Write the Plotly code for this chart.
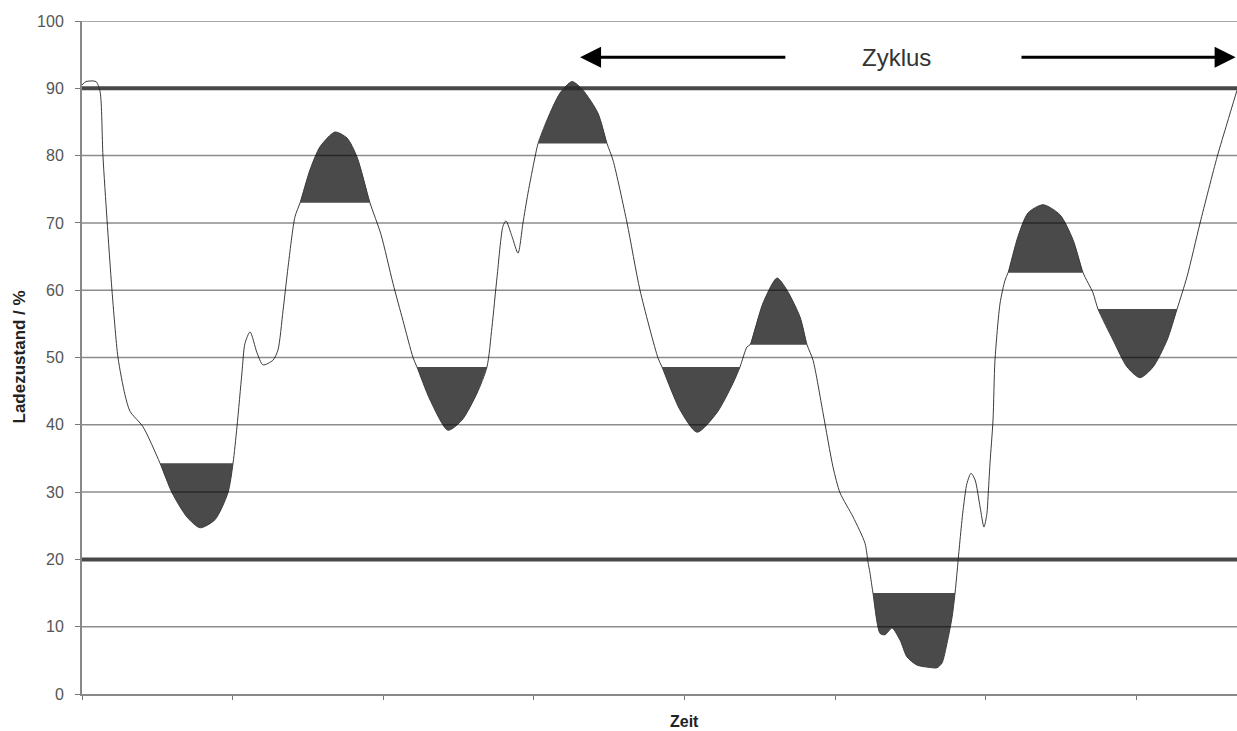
import plotly.graph_objects as go

# State of charge over time (time in tick intervals, SOC in %)
time = [0.000, 0.027, 0.093, 0.120, 0.139, 0.166, 0.199, 0.239, 0.285, 0.319,
        0.405, 0.518, 0.598, 0.697, 0.784, 0.883, 0.969, 1.003, 1.029, 1.062,
        1.082, 1.116, 1.162, 1.202, 1.268, 1.301, 1.335, 1.368, 1.414, 1.448,
        1.514, 1.580, 1.680, 1.760, 1.826, 1.912, 1.985, 2.065, 2.131, 2.198,
        2.224, 2.311, 2.430, 2.523, 2.623, 2.689, 2.722, 2.756, 2.795, 2.815,
        2.855, 2.895, 2.928, 2.961, 3.008, 3.028, 3.088, 3.174, 3.254, 3.327,
        3.426, 3.486, 3.526, 3.619, 3.705, 3.825, 3.851, 3.971, 4.084, 4.216,
        4.323, 4.369, 4.416, 4.436, 4.522, 4.615, 4.681, 4.768, 4.814, 4.854,
        4.920, 4.987, 5.033, 5.120, 5.199, 5.219, 5.232, 5.252, 5.299, 5.332,
        5.378, 5.432, 5.478, 5.544, 5.611, 5.677, 5.710, 5.744, 5.777, 5.797,
        5.830, 5.850, 5.876, 5.903, 5.930, 5.963, 5.989, 6.009, 6.016, 6.029,
        6.049, 6.062, 6.096, 6.129, 6.149, 6.215, 6.282, 6.381, 6.494, 6.580,
        6.647, 6.713, 6.746, 6.846, 6.939, 7.025, 7.112, 7.205, 7.271, 7.337,
        7.424, 7.537, 7.603, 7.669]
soc = [90.5, 91.0, 91.0, 89.5, 80.0, 70.5, 60.0, 50.0, 44.5, 42.0,
       39.7, 34.3, 29.9, 26.3, 24.7, 25.9, 29.9, 34.3, 39.7, 47.7,
       52.1, 53.8, 50.7, 48.9, 49.6, 51.1, 57.0, 63.4, 70.9, 73.0,
       77.9, 81.3, 83.5, 82.6, 79.8, 73.0, 68.3, 61.0, 55.5, 50.0,
       48.6, 43.7, 39.2, 40.7, 44.7, 48.6, 54.5, 62.0, 69.5, 70.3,
       68.0, 65.5, 70.0, 74.4, 79.8, 81.8, 85.3, 89.3, 91.0, 89.7,
       86.3, 81.8, 79.3, 70.0, 60.0, 49.9, 48.6, 42.2, 38.9, 41.8,
       46.2, 48.6, 51.6, 51.9, 58.1, 61.8, 60.0, 56.0, 51.9, 49.6,
       41.8, 33.7, 29.9, 26.3, 22.4, 19.6, 18.0, 15.0, 9.0, 8.8,
       9.8, 8.0, 5.5, 4.3, 4.0, 3.9, 4.6, 7.6, 11.4, 15.0,
       22.9, 27.3, 31.3, 32.8, 31.8, 27.8, 24.8, 26.9, 29.3, 34.3,
       40.7, 49.6, 58.1, 61.5, 62.6, 68.0, 71.5, 72.7, 71.2, 67.5,
       62.6, 59.6, 57.2, 52.6, 48.6, 47.0, 48.6, 52.6, 57.2, 62.0,
       70.0, 79.8, 84.8, 89.7]

# Partial cycles: shaded between the curve and a horizontal level
band_start = [0.518, 1.448, 2.224, 3.028, 3.851, 4.436, 5.252, 6.149, 6.746]
band_end = [1.003, 1.912, 2.689, 3.486, 4.369, 4.814, 5.797, 6.647, 7.271]
band_level = [34.3, 73.0, 48.6, 81.8, 48.6, 51.9, 15.0, 62.6, 57.2]

y_ticks = [0, 10, 20, 30, 40, 50, 60, 70, 80, 90, 100]
soc_limits = [20, 90]

cycle_label = "Zyklus"
cycle_arrow_left = [4.68, 3.307]   # tail, head
cycle_arrow_right = [6.228, 7.66]  # tail, head
cycle_y = 94.6
cycle_label_x = 5.405

FONT = "Liberation Sans, Arial"
SMOOTH = 0.7

fig = go.Figure()

for t0, t1, lvl in zip(band_start, band_end, band_level):
    xs = [t for t in time if t0 <= t <= t1]
    ys = [s for t, s in zip(time, soc) if t0 <= t <= t1]
    fig.add_trace(go.Scatter(
        x=[t0, t1], y=[lvl, lvl], mode="lines", line=dict(width=0),
        hoverinfo="skip", showlegend=False))
    fig.add_trace(go.Scatter(
        x=xs, y=ys, mode="lines", fill="tonexty", fillcolor="#4a4a4a",
        line=dict(width=0, shape="spline", smoothing=SMOOTH),
        hoverinfo="skip", showlegend=False))

fig.add_trace(go.Scatter(
    x=time, y=soc, mode="lines",
    line=dict(color="#3c3c3c", width=1, shape="spline", smoothing=SMOOTH),
    showlegend=False, hoverinfo="skip"))

shapes = []
for v in y_ticks[1:]:
    if v in soc_limits:
        continue
    shapes.append(dict(type="line", xref="paper", yref="y", x0=0, x1=1, y0=v, y1=v,
                       line=dict(color="rgba(0,0,0,0.45)", width=1.5), layer="above"))
for v in soc_limits:
    shapes.append(dict(type="line", xref="paper", yref="y", x0=0, x1=1, y0=v, y1=v,
                       line=dict(color="rgba(40,40,40,0.85)", width=4), layer="above"))

annotations = [
    dict(x=cycle_arrow_left[1], y=cycle_y, ax=cycle_arrow_left[0], ay=cycle_y,
         xref="x", yref="y", axref="x", ayref="y", text="", showarrow=True,
         arrowhead=2, arrowsize=1.4, arrowwidth=3, arrowcolor="black"),
    dict(x=cycle_arrow_right[1], y=cycle_y, ax=cycle_arrow_right[0], ay=cycle_y,
         xref="x", yref="y", axref="x", ayref="y", text="", showarrow=True,
         arrowhead=2, arrowsize=1.4, arrowwidth=3, arrowcolor="black"),
    dict(x=cycle_label_x, y=cycle_y, xref="x", yref="y", text=cycle_label,
         showarrow=False, font=dict(family=FONT, size=24, color="#333")),
    dict(x=0, y=0.5, xref="paper", yref="paper", xshift=-63, xanchor="center",
         yanchor="middle", text="<b>Ladezustand / %</b>",
         textangle=-90, showarrow=False,
         font=dict(family=FONT, size=17, color="#222")),
    dict(x=4.0, y=0, xref="x", yref="paper", yshift=-27, xanchor="center",
         yanchor="middle", text="<b>Zeit</b>",
         showarrow=False, font=dict(family=FONT, size=16, color="#222")),
]

fig.update_layout(
    width=1237, height=731,
    margin=dict(l=82, r=0, t=21, b=37),
    paper_bgcolor="white", plot_bgcolor="white",
    shapes=shapes, annotations=annotations,
    xaxis=dict(range=[0, 7.669], showgrid=False, zeroline=False, showticklabels=False,
               ticks="outside", tickmode="linear", tick0=0, dtick=1, ticklen=4,
               tickcolor="#777", showline=True, linecolor="#888", linewidth=2),
    yaxis=dict(range=[0, 100], showgrid=False, zeroline=False,
               tickmode="array", tickvals=y_ticks, ticks="outside", ticklen=5,
               tickcolor="#777", showline=True, linecolor="#888", linewidth=2,
               ticklabelstandoff=8,
               tickfont=dict(family=FONT, size=16, color="#555")),
)

fig.write_html("out.html")
